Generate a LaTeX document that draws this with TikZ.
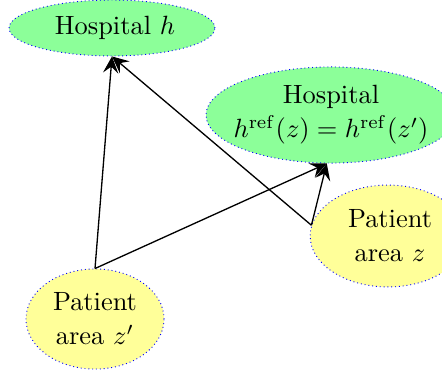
\documentclass[tikz,border=0pt]{standalone}
\usetikzlibrary{shapes.geometric,arrows.meta}
\definecolor{hospfill}{rgb}{0.55,1,0.6}
\definecolor{patfill}{rgb}{1,1,0.6}
\tikzset{
  blob/.style={ellipse, draw=blue, line width=0.35pt, dash pattern=on 0.35pt off 1.1pt, inner sep=0pt},
  hosp/.style={blob, fill=hospfill},
  pat/.style={blob, fill=patfill},
  txt/.style={align=center, font=\fontsize{10}{12.9}\selectfont, inner sep=0pt},
  conn/.style={line width=0.5pt, -{Stealth[length=6.3pt,width=5.8pt,inset=2.4pt]}}
}
\begin{document}
\begin{tikzpicture}[x=0.3788pt,y=-0.3788pt]
\useasboundingbox (0,0) rectangle (442,374);
\node[hosp, minimum width=78pt, minimum height=21.2pt] (h) at (112,28) {};
\node[txt] (ht) at (115,28) {Hospital $h$};
\node[hosp, minimum width=94.7pt, minimum height=36.4pt] (r) at (331,115) {};
\node[txt] (rt) at (331,115) {Hospital\\$h^{\mathrm{ref}}(z)=h^{\mathrm{ref}}(z')$};
\node[pat, minimum width=59pt, minimum height=38.6pt] (z) at (388,236) {};
\node[txt] (zt) at (390,236) {Patient\\area $z$};
\node[pat, minimum width=52.3pt, minimum height=37.9pt] (zp) at (95,319) {};
\node[txt] (zpt) at (95,319) {Patient\\area $z'$};
\draw[conn] (zp.north) -- (h.south);
\draw[conn] (zp.north) -- (r.265);
\draw[conn] (z.172) -- (h.south);
\draw[conn] (z.172) -- (r.265);
\end{tikzpicture}
\end{document}
